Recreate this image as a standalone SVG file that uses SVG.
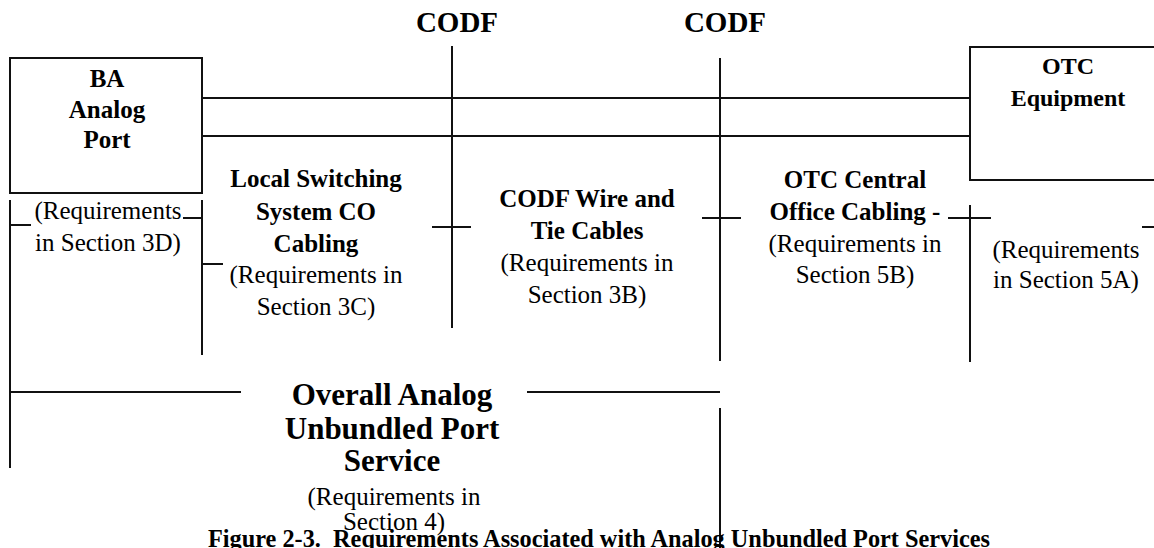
<svg xmlns="http://www.w3.org/2000/svg" width="1154" height="548" viewBox="0 0 1154 548">
  <style>
    .ln { stroke: #111; stroke-width: 2; fill: none; }
    .box { stroke: #111; stroke-width: 2; fill: #fff; }
    text { font-family: "Liberation Serif", "Times New Roman", serif; fill: #000; text-anchor: middle; }
    .b { font-weight: bold; font-size: 25px; }
    .r { font-size: 25px; }
    .codf { font-weight: bold; font-size: 29px; }
    .big { font-weight: bold; font-size: 31px; }
    .cap { font-weight: bold; font-size: 24.3px; white-space: pre; }
  </style>
  <rect width="1154" height="548" fill="#fff"/>

  <!-- connectors: cable pairs, distribution frames and span brackets -->
  <g id="connectors">
    <line class="ln" x1="202" y1="98" x2="970" y2="98"/>
    <line class="ln" x1="202" y1="136" x2="970" y2="136"/>
    <!-- left CODF -->
    <line class="ln" x1="452" y1="46" x2="452" y2="328"/>
    <line class="ln" x1="432" y1="227" x2="471" y2="227"/>
    <!-- right CODF -->
    <line class="ln" x1="720" y1="58" x2="720" y2="361"/>
    <line class="ln" x1="702" y1="218" x2="741" y2="218"/>
    <!-- BA port span -->
    <line class="ln" x1="10" y1="200" x2="10" y2="468"/>
    <line class="ln" x1="10" y1="225" x2="31" y2="225"/>
    <line class="ln" x1="202" y1="200" x2="202" y2="355"/>
    <line class="ln" x1="183" y1="218" x2="202" y2="218"/>
    <line class="ln" x1="202" y1="264" x2="223" y2="264"/>
    <!-- OTC span -->
    <line class="ln" x1="970" y1="205" x2="970" y2="362"/>
    <line class="ln" x1="948" y1="218" x2="991" y2="218"/>
    <line class="ln" x1="1142" y1="227" x2="1154" y2="227"/>
    <!-- overall service span -->
    <line class="ln" x1="10" y1="392" x2="241" y2="392"/>
    <line class="ln" x1="527" y1="392" x2="720" y2="392"/>
    <line class="ln" x1="720" y1="408" x2="720" y2="548"/>
  </g>

  <g id="codf-left-label">
    <text class="codf" x="457" y="32">CODF</text>
  </g>
  <g id="codf-right-label">
    <text class="codf" x="725" y="32">CODF</text>
  </g>

  <g id="ba-analog-port">
    <rect class="box" x="10" y="58" width="192" height="135"/>
    <text class="b" x="107" y="87">BA</text>
    <text class="b" x="107" y="118">Analog</text>
    <text class="b" x="107" y="148">Port</text>
  </g>

  <g id="otc-equipment">
    <path class="box" d="M1156,47 H970 V180 H1156"/>
    <text class="b" x="1068" y="74" style="font-size:24px">OTC</text>
    <text class="b" x="1068" y="106" style="font-size:24px">Equipment</text>
  </g>

  <g id="ba-port-requirements">
    <text class="r" x="108" y="219">(Requirements</text>
    <text class="r" x="108" y="251">in Section 3D)</text>
  </g>

  <g id="local-switching-cabling">
    <text class="b" x="316" y="187">Local Switching</text>
    <text class="b" x="316" y="220">System CO</text>
    <text class="b" x="316" y="252">Cabling</text>
    <text class="r" x="316" y="283">(Requirements in</text>
    <text class="r" x="316" y="315">Section 3C)</text>
  </g>

  <g id="codf-wire-tie-cables">
    <text class="b" x="587" y="207">CODF Wire and</text>
    <text class="b" x="587" y="239">Tie Cables</text>
    <text class="r" x="587" y="271">(Requirements in</text>
    <text class="r" x="587" y="303">Section 3B)</text>
  </g>

  <g id="otc-co-cabling">
    <text class="b" x="855" y="188">OTC Central</text>
    <text class="b" x="855" y="220">Office Cabling -</text>
    <text class="r" x="855" y="252">(Requirements in</text>
    <text class="r" x="855" y="283">Section 5B)</text>
  </g>

  <g id="otc-equipment-requirements">
    <text class="r" x="1066" y="258">(Requirements</text>
    <text class="r" x="1066" y="288">in Section 5A)</text>
  </g>

  <g id="overall-service">
    <text class="big" x="392" y="405">Overall Analog</text>
    <text class="big" x="392" y="439">Unbundled Port</text>
    <text class="big" x="392" y="471">Service</text>
    <text class="r" x="394" y="505">(Requirements in</text>
    <text class="r" x="394" y="530">Section 4)</text>
  </g>

  <g id="caption">
    <text class="cap" x="599" y="547">Figure 2-3.  Requirements Associated with Analog Unbundled Port Services</text>
  </g>
</svg>
